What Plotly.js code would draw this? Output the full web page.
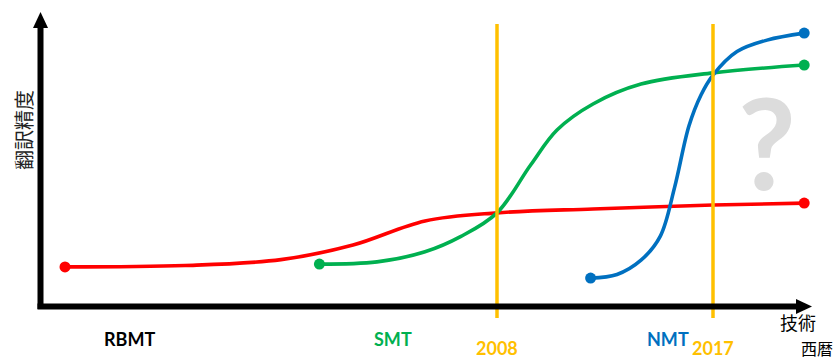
<!DOCTYPE html>
<html><head><meta charset="utf-8">
<script src="https://cdn.plot.ly/plotly-3.0.1.min.js"></script>
<style>html,body{margin:0;padding:0;background:#fff}#chart{width:838px;height:360px}</style>
</head><body><div id="chart"></div>
<script>
// Conceptual curves: x = year, y = translation accuracy (arbitrary 0-100 scale)
const rbmtYears = [1990, 1995, 1999, 2002, 2005, 2008, 2012, 2017, 2020.8];
const rbmtAcc   = [13.6, 14.1, 16.2, 21.4, 30.0, 32.9, 34.3, 35.7, 36.4];

const smtYears = [2000.6, 2003, 2005, 2006.5, 2008, 2009.4, 2010.5, 2012, 2014, 2017, 2020.8];
const smtAcc   = [14.6, 15.4, 19.0, 24.5, 32.9, 50.0, 62.5, 71.8, 78.9, 82.9, 85.7];

const nmtYears = [2011.9, 2013, 2014, 2014.8, 2015.4, 2016, 2016.5, 2017, 2018, 2019.25, 2020.8];
const nmtAcc   = [9.6, 10.9, 16.0, 24.5, 42.0, 64.0, 75.0, 82.1, 90.5, 94.6, 97.1];

const techLabels = ['RBMT', 'SMT', 'NMT'];
const milestoneYears = [2008, 2017];
const yLabel = '翻訳精度';
const xLabel1 = '技術';
const xLabel2 = '西暦';

const RED = '#ff0000', GREEN = '#00b050', BLUE = '#0070c0', YEL = '#ffc000';
const W = 838, H = 360;
const X0 = 2008 - 497/24, X1 = 2008 + 341/24;
const Y0 = (305-360)/2.8, Y1 = 305/2.8;
const px = v => v / W;
const py = v => 1 - v / H;

function curve(xs, ys, color) {
  return [
    {x: xs, y: ys, type: 'scatter', mode: 'lines', line: {color: color, width: 3.6, shape: 'spline', smoothing: 1}, hoverinfo: 'skip'},
    {x: [xs[0], xs[xs.length-1]], y: [ys[0], ys[ys.length-1]], type: 'scatter', mode: 'markers', marker: {color: color, size: 11}, hoverinfo: 'skip'}
  ];
}

const data = [].concat(curve(rbmtYears, rbmtAcc, RED), curve(smtYears, smtAcc, GREEN), curve(nmtYears, nmtAcc, BLUE));

const shapes = [];
milestoneYears.forEach(yr => {
  shapes.push({type: 'line', xref: 'x', yref: 'paper', x0: yr, x1: yr, y0: py(24), y1: py(318), line: {color: YEL, width: 3.5}, layer: 'above'});
});
// axes with arrowheads
shapes.push({type: 'line', xref: 'paper', yref: 'paper', x0: px(40.5), x1: px(40.5), y0: py(309), y1: py(26), line: {color: '#000', width: 6}});
shapes.push({type: 'line', xref: 'paper', yref: 'paper', x0: px(37.5), x1: px(798), y0: py(306.5), y1: py(306.5), line: {color: '#000', width: 6}});
shapes.push({type: 'path', xref: 'paper', yref: 'paper', path: `M ${px(33)} ${py(28)} L ${px(48)} ${py(28)} L ${px(40.5)} ${py(12)} Z`, fillcolor: '#000', line: {width: 0}});
shapes.push({type: 'path', xref: 'paper', yref: 'paper', path: `M ${px(796)} ${py(299)} L ${px(796)} ${py(314)} L ${px(812)} ${py(306.5)} Z`, fillcolor: '#000', line: {width: 0}});

const F = 'Lato, "Open Sans", sans-serif';
const CJK = '"Noto Sans CJK JP", sans-serif';
const ann = (x, y, text, color, size, extra) => Object.assign({xref: 'paper', yref: 'paper', x: px(x), y: py(y), text: text, showarrow: false, xanchor: 'center', yanchor: 'middle', font: {family: F, size: size, color: color}}, extra || {});
const annotations = [
  ann(129, 339, '<b>' + techLabels[0] + '</b>', '#000', 18),
  ann(393, 339, '<b>' + techLabels[1] + '</b>', GREEN, 18),
  ann(668, 339, '<b>' + techLabels[2] + '</b>', BLUE, 18),
  Object.assign(ann(0, 348, '<b>' + milestoneYears[0] + '</b>', YEL, 18), {xref: 'x', x: milestoneYears[0]}),
  Object.assign(ann(0, 348, '<b>' + milestoneYears[1] + '</b>', YEL, 18), {xref: 'x', x: milestoneYears[1]}),
  ann(798, 322, xLabel1, '#000', 18, {borderpad: 0, font: {family: CJK, size: 18, color: '#000'}}),
  ann(817, 348, xLabel2, '#000', 16, {borderpad: 0, font: {family: CJK, size: 16, color: '#000'}}),
  ann(23, 130, yLabel, '#222', 20, {textangle: -90, font: {family: CJK, size: 20, color: '#222'}}),
  ann(767, 142, '<b>?</b>', '#dcdcdc', 126)
];

const layout = {
  width: W, height: H,
  margin: {l: 0, r: 0, t: 0, b: 0},
  paper_bgcolor: '#fff', plot_bgcolor: '#fff',
  showlegend: false,
  xaxis: {range: [X0, X1], visible: false, fixedrange: true},
  yaxis: {range: [Y0, Y1], visible: false, fixedrange: true},
  shapes: shapes,
  annotations: annotations
};
Plotly.newPlot('chart', data, layout, {displayModeBar: false, staticPlot: true});
</script></body></html>
